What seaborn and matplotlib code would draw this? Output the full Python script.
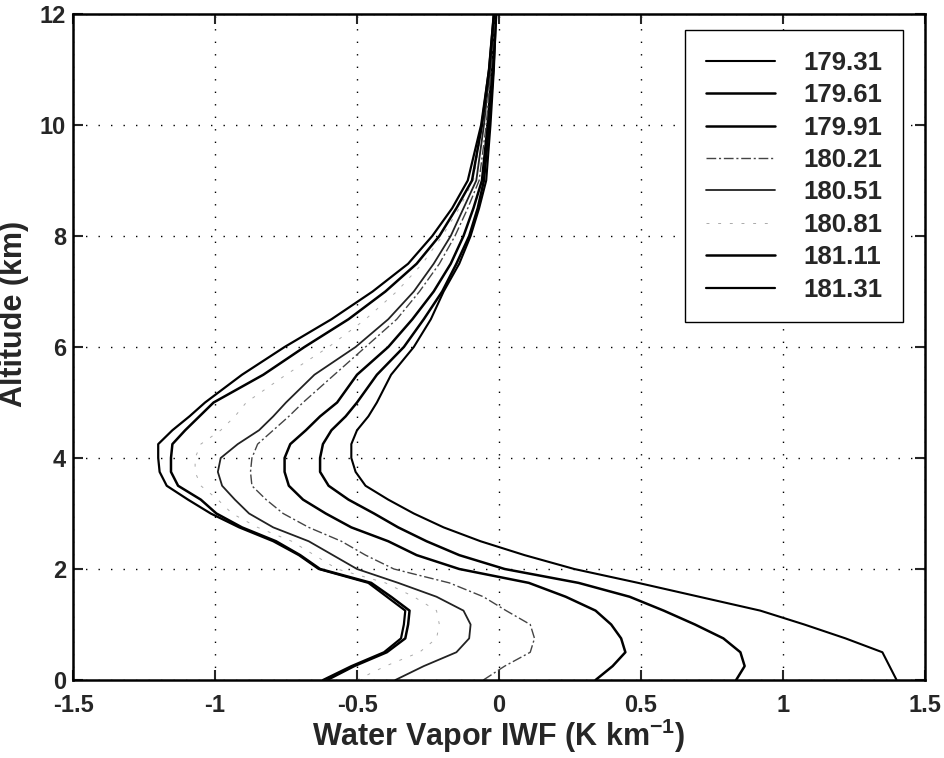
import numpy as np
import pandas as pd
import matplotlib
matplotlib.use("Agg")
import matplotlib.pyplot as plt
import seaborn as sns

# ---------------- data ----------------
altitude = [0, 0.25, 0.5, 0.75, 1.0, 1.25, 1.5, 1.75, 2.0, 2.25, 2.5, 2.75, 3.0,
            3.25, 3.5, 3.75, 4.0, 4.25, 4.5, 4.75, 5.0, 5.5, 6.0, 6.5, 7.0, 7.5,
            8.0, 8.5, 9.0, 10, 11, 12]

iwf_17931 = [1.40, 1.375, 1.35, 1.22, 1.075, 0.92, 0.705, 0.49, 0.265, 0.09, -0.065,
             -0.195, -0.30, -0.39, -0.47, -0.505, -0.52, -0.52, -0.50, -0.46, -0.43,
             -0.38, -0.30, -0.24, -0.195, -0.14, -0.10, -0.07, -0.045, -0.03, -0.018, -0.01]
iwf_17961 = [0.835, 0.865, 0.85, 0.79, 0.69, 0.58, 0.46, 0.28, 0.02, -0.14, -0.255,
             -0.355, -0.44, -0.53, -0.60, -0.63, -0.63, -0.62, -0.59, -0.54, -0.50,
             -0.43, -0.335, -0.265, -0.20, -0.15, -0.105, -0.075, -0.053, -0.035, -0.02, -0.01]
iwf_17991 = [0.34, 0.40, 0.445, 0.43, 0.395, 0.34, 0.235, 0.105, -0.14, -0.29, -0.39,
             -0.52, -0.61, -0.69, -0.74, -0.755, -0.755, -0.735, -0.68, -0.63, -0.57,
             -0.50, -0.39, -0.305, -0.23, -0.17, -0.125, -0.09, -0.06, -0.04, -0.025, -0.012]
iwf_18021 = [-0.055, 0.02, 0.11, 0.125, 0.11, 0.025, -0.055, -0.175, -0.37, -0.47, -0.555,
             -0.67, -0.76, -0.82, -0.87, -0.875, -0.87, -0.85, -0.795, -0.74, -0.69,
             -0.58, -0.47, -0.36, -0.28, -0.21, -0.155, -0.11, -0.07, -0.045, -0.028, -0.015]
iwf_18051 = [-0.365, -0.265, -0.15, -0.105, -0.10, -0.125, -0.22, -0.355, -0.50, -0.585, -0.67,
             -0.795, -0.88, -0.93, -0.975, -0.99, -0.98, -0.92, -0.845, -0.795, -0.75,
             -0.65, -0.505, -0.39, -0.30, -0.23, -0.17, -0.125, -0.08, -0.053, -0.032, -0.018]
iwf_18081 = [-0.50, -0.40, -0.28, -0.22, -0.21, -0.22, -0.30, -0.40, -0.57, -0.65, -0.73,
             -0.85, -0.94, -0.99, -1.05, -1.07, -1.07, -1.05, -0.98, -0.93, -0.89,
             -0.75, -0.60, -0.47, -0.36, -0.27, -0.20, -0.14, -0.09, -0.057, -0.034, -0.018]
iwf_18111 = [-0.605, -0.51, -0.395, -0.33, -0.32, -0.315, -0.38, -0.45, -0.63, -0.70, -0.785,
             -0.905, -0.995, -1.05, -1.13, -1.155, -1.155, -1.15, -1.105, -1.055, -1.005,
             -0.83, -0.685, -0.53, -0.40, -0.29, -0.21, -0.15, -0.095, -0.06, -0.035, -0.018]
iwf_18131 = [-0.62, -0.52, -0.405, -0.345, -0.335, -0.33, -0.395, -0.46, -0.635, -0.705, -0.795,
             -0.915, -1.015, -1.095, -1.17, -1.195, -1.20, -1.20, -1.15, -1.09, -1.035,
             -0.905, -0.755, -0.59, -0.445, -0.32, -0.235, -0.165, -0.11, -0.063, -0.035, -0.018]

frequencies = ["179.31", "179.61", "179.91", "180.21", "180.51", "180.81", "181.11", "181.31"]
series = [iwf_17931, iwf_17961, iwf_17991, iwf_18021, iwf_18051, iwf_18081, iwf_18111, iwf_18131]

xticks = [-1.5, -1, -0.5, 0, 0.5, 1, 1.5]
xtick_labels = ["-1.5", "-1", "-0.5", "0", "0.5", "1", "1.5"]
yticks = [0, 2, 4, 6, 8, 10, 12]
ytick_labels = ["0", "2", "4", "6", "8", "10", "12"]

df = pd.concat([pd.DataFrame({"alt": altitude, "iwf": s, "freq": f})
                for f, s in zip(frequencies, series)], ignore_index=True)

# ---------------- styles ----------------
styles = {
    "179.31": dict(color="black", lw=1.5, ls="-"),
    "179.61": dict(color="black", lw=1.8, ls="-"),
    "179.91": dict(color="black", lw=1.8, ls="-"),
    "180.21": dict(color="#444444", lw=1.0, ls=(0, (7, 2, 1.5, 2))),
    "180.51": dict(color="#222222", lw=1.3, ls="-"),
    "180.81": dict(color="#aaaaaa", lw=0.7, ls=(0, (3, 9))),
    "181.11": dict(color="black", lw=1.8, ls="-"),
    "181.31": dict(color="black", lw=1.6, ls="-"),
}

sns.set_style("ticks")
plt.rcParams["font.family"] = ["Liberation Sans", "DejaVu Sans"]
plt.rcParams["font.weight"] = "bold"
plt.rcParams["mathtext.fontset"] = "custom"
plt.rcParams["mathtext.rm"] = "Liberation Sans:bold"
plt.rcParams["mathtext.bf"] = "Liberation Sans:bold"
plt.rcParams["mathtext.default"] = "bf"

fig = plt.figure(figsize=(9.44, 7.58), dpi=100)
ax = fig.add_axes([73 / 944, 78 / 758, 852 / 944, 666 / 758])

for f in frequencies:
    st = styles[f]
    sns.lineplot(data=df[df["freq"] == f], x="iwf", y="alt", sort=False,
                 estimator=None, color=st["color"], linewidth=st["lw"],
                 linestyle=st["ls"], ax=ax, label=f)

ax.set_xlim(-1.5, 1.5)
ax.set_ylim(0, 12)
ax.set_xticks(xticks)
ax.set_xticklabels(xtick_labels)
ax.set_yticks(yticks)
ax.set_yticklabels(ytick_labels)
ax.grid(True, color="black", linestyle=(0, (1, 8)), linewidth=1.0)
ax.tick_params(direction="in", length=7, width=1.5, top=True, right=True,
               labelsize=17, pad=5)
ax.tick_params(axis="x", pad=10)
for lab in ax.get_xticklabels() + ax.get_yticklabels():
    lab.set_fontweight("bold")
for sp in ax.spines.values():
    sp.set_linewidth(1.8)
    sp.set_color("black")

ax.set_xlabel(r"Water Vapor IWF (K km$^{-1}$)", fontsize=22, fontweight="bold", labelpad=0)
ax.set_ylabel("Altitude (km)", fontsize=22, fontweight="bold")
ax.yaxis.set_label_coords(-0.052, 0.55)

handles, labels = ax.get_legend_handles_labels()
leg = ax.legend(handles, labels, loc="upper right",
                bbox_to_anchor=((903 - 73) / 852, (680 - 30) / 666),
                borderaxespad=0, fontsize=18.5, handlelength=2.7, handletextpad=1.1,
                labelspacing=0.33, borderpad=0.8, fancybox=False, framealpha=1,
                edgecolor="black")
leg.get_frame().set_linewidth(1.0)
for t in leg.get_texts():
    t.set_fontweight("bold")

fig.savefig("out.png", dpi=100)
